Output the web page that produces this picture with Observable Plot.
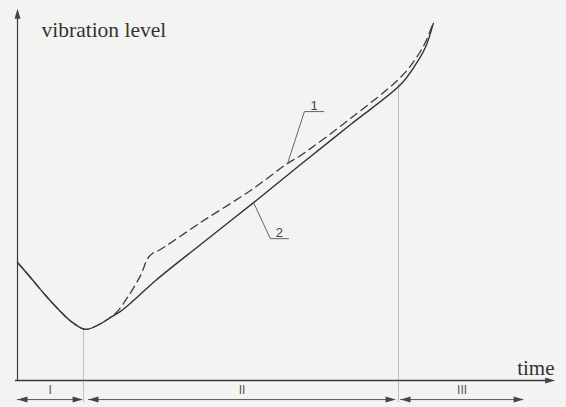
<!DOCTYPE html>
<html>
<head>
<meta charset="utf-8">
<script src="https://cdn.jsdelivr.net/npm/d3@7"></script>
<script src="https://cdn.jsdelivr.net/npm/@observablehq/plot@0.6"></script>
<style>
  html, body { margin: 0; padding: 0; background: #f3f3f2; }
  #chart svg { display: block; }
</style>
</head>
<body>
<div id="chart"></div>
<script>
// Curve 1 (dashed) – time and vibration level (arbitrary units)
const time1  = [0, 3.1, 6.7, 10.2, 13.1, 16.2, 19.8, 22.1, 23.8, 26.2, 29.3, 31.0, 32.1, 33.6, 43.6, 55.5, 64.3, 67.4, 79.3, 91.2, 94.8, 97.1, 98.8];
const level1 = [32.8, 28.6, 23.6, 19.2, 16.1, 14.2, 15.8, 17.5, 19.2, 23.1, 29.2, 33.9, 35.3, 36.1, 43.9, 52.8, 60.3, 62.5, 72.8, 84.2, 89.4, 93.9, 98.9];
// Curve 2 (solid)
const time2  = [0, 3.1, 6.7, 10.2, 13.1, 16.2, 19.8, 22.1, 24.5, 27.6, 32.9, 43.6, 56.2, 67.4, 79.3, 91.2, 94.8, 97.1, 99.0];
const level2 = [32.8, 28.6, 23.6, 19.2, 16.1, 14.2, 15.8, 17.5, 19.2, 22.2, 27.8, 37.8, 49.4, 60.0, 71.1, 82.2, 87.8, 92.5, 99.2];
// Phase boundaries and phase arrows
const boundaryTime   = [15.7, 90.7];
const boundaryLevel  = [14.2, 82.5];
const phaseLabels = ["I", "II", "III"];
const phaseStart  = [0, 16.9, 91.2];
const phaseEnd    = [15.5, 90.0, 120.5];
// Curve labels with leader lines
const curveLabels = ["1", "2"];
const leaderTime  = [[64.3, 68.3, 72.9], [56.2, 60.2, 64.5]];
const leaderLevel = [[60.3, 74.7, 74.7], [49.4, 39.4, 39.4]];
// Axis extents
const xAxisEnd = 128;
const yAxisEnd = 103.3;
const phaseArrowLevel = -5.3;
const phaseLabelLevel = -2.8;
const bottomLevel = -6;

const curve1 = time1.map((t, i) => ({t, v: level1[i]}));
const curve2 = time2.map((t, i) => ({t, v: level2[i]}));
const phases = phaseLabels.map((label, i) => ({label, a: phaseStart[i], b: phaseEnd[i], mid: (phaseStart[i] + phaseEnd[i]) / 2}));
const bounds = boundaryTime.map((t, i) => ({t, top: boundaryLevel[i], bottom: bottomLevel}));
const leaders = curveLabels.flatMap((label, i) => leaderTime[i].map((t, j) => ({label, t, v: leaderLevel[i][j]})));
const labelPos = curveLabels.map((label, i) => ({label, t: (leaderTime[i][1] + leaderTime[i][2]) / 2, v: leaderLevel[i][2]}));

const head = {
  draw(ctx) {
    const L = 10, W = 3;
    ctx.moveTo(0, 0);
    ctx.lineTo(W, L);
    ctx.lineTo(-W, L);
    ctx.closePath();
  }
};
const heads = [
  {t: 0, v: yAxisEnd, r: 0},
  {t: xAxisEnd, v: 0, r: 90},
  ...phases.flatMap(p => [{t: p.a, v: phaseArrowLevel, r: -90}, {t: p.b, v: phaseArrowLevel, r: 90}])
];

const ink = "#3a3a3a";
const chart = Plot.plot({
  width: 566,
  height: 407,
  marginTop: 0, marginRight: 0, marginBottom: 0, marginLeft: 0,
  style: {background: "#f3f3f2", overflow: "visible"},
  x: {domain: [-4.05, 130.7], axis: null},
  y: {domain: [-7.5, 105.56], axis: null},
  marks: [
    // axes
    Plot.ruleY([0], {x1: -0.5, x2: xAxisEnd - 1, stroke: ink, strokeWidth: 1.3}),
    Plot.ruleX([0], {y1: -0.3, y2: yAxisEnd - 1, stroke: ink, strokeWidth: 1.2}),
    // phase boundaries
    Plot.ruleX(bounds, {x: "t", y1: "bottom", y2: "top", stroke: "#8a8a8a", strokeWidth: 1, strokeDasharray: "1,1"}),
    // phase arrows
    Plot.ruleY(phases, {y: phaseArrowLevel, x1: "a", x2: "b", stroke: "#555", strokeWidth: 1}),
    Plot.dot(heads, {x: "t", y: "v", rotate: "r", symbol: head, fill: "#444", stroke: "none", r: 3}),
    Plot.text(phases, {x: "mid", y: phaseLabelLevel, text: "label", fontFamily: "Liberation Sans", fontSize: 12, fill: "#555"}),
    // curves
    Plot.line(curve2, {x: "t", y: "v", curve: "catmull-rom", stroke: "#333", strokeWidth: 1.4}),
    Plot.line(curve1, {x: "t", y: "v", curve: "catmull-rom", stroke: "#3c3c3c", strokeWidth: 1.3, strokeDasharray: "8,5"}),
    // leaders and labels
    Plot.line(leaders, {x: "t", y: "v", z: "label", stroke: "#555", strokeWidth: 0.9}),
    Plot.text(labelPos, {x: "t", y: "v", text: "label", lineAnchor: "bottom", dy: -2, fontFamily: "Liberation Sans", fontSize: 13, fill: "#444"}),
    // axis titles
    Plot.text(["vibration level"], {frameAnchor: "top-left", dx: 41, dy: 21, fontFamily: "Liberation Serif", fontSize: 21.5, fill: "#333", lineAnchor: "top"}),
    Plot.text(["time"], {frameAnchor: "bottom-right", dx: -12, dy: -33, fontFamily: "Liberation Serif", fontSize: 21, fill: "#333", textAnchor: "end", lineAnchor: "bottom"})
  ]
});
document.getElementById("chart").append(chart);
</script>
</body>
</html>
